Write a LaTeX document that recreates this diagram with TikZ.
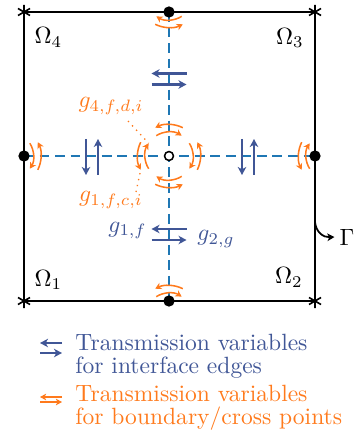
\documentclass[tikz,border=0pt]{standalone}
\usetikzlibrary{arrows.meta,calc}
\definecolor{edgeblue}{RGB}{64,86,150}
\definecolor{lineblue}{RGB}{31,119,180}
\definecolor{ptorange}{RGB}{255,122,28}
\newcommand{\ptpair}[2]{%
  \draw[ptarrow] (#1) ++({#2+26}:31.5) arc[start angle={#2+26}, end angle={#2-26}, radius=31.5];
  \draw[ptarrow] (#1) ++({#2-32}:24) arc[start angle={#2-32}, end angle={#2+32}, radius=24];}
\begin{document}
\begin{tikzpicture}[x=0.425pt,y=-0.425pt,
  bound/.style={line width=0.9pt, black},
  iface/.style={lineblue, line width=0.85pt, dash pattern=on 4.2pt off 2.4pt},
  edgearrow/.style={edgeblue, line width=1.05pt, -{Stealth[length=3.4pt,width=3.6pt,inset=1pt]}},
  ptarrow/.style={ptorange, line width=0.65pt, -{Stealth[length=2.6pt,width=2.8pt,inset=0.7pt]}},
  dotnode/.style={circle, fill=black, inner sep=0pt, minimum size=4.8pt},
  crossnode/.style={circle, draw=black, fill=white, line width=0.65pt, inner sep=0pt, minimum size=3.8pt},
  leader/.style={ptorange, line width=0.55pt, dotted},
  lab/.style={inner sep=0pt},
  legtext/.style={inner sep=0pt, anchor=base west},
  starmark/.pic={\draw[line width=0.7pt] (0,-7)--(0,7) (-6,-3.5)--(6,3.5) (-6,3.5)--(6,-3.5);},
  hpair/.pic={\draw[edgearrow] (17.5,-5.5) -- (-17.5,-5.5); \draw[edgearrow] (-17.5,5.5) -- (17.5,5.5);},
  vpair/.pic={\draw[edgearrow] (-6,-18) -- (-6,18); \draw[edgearrow] (6,18) -- (6,-18);}
]
\useasboundingbox (0,0) rectangle (362,434);
% corners and key points
\coordinate (TL) at (24,12);
\coordinate (TR) at (315,12);
\coordinate (BR) at (315,301);
\coordinate (BL) at (24,301);
\coordinate (Tp) at (169,12);
\coordinate (Bp) at (169,301);
\coordinate (Lp) at (24,156);
\coordinate (Rp) at (315,156);
\coordinate (Cc) at (169,156);
% virtual centres for boundary arcs
\coordinate (Vt) at (169,-4);
\coordinate (Vb) at (169,317);
\coordinate (Vl) at (9.5,156);
\coordinate (Vr) at (330,156);
% domain boundary
\draw[bound] (TL) -- (TR) -- (BR) -- (BL) -- cycle;
% interfaces
\draw[iface] (Tp) -- (Bp);
\draw[iface] (Lp) -- (Rp);
% edge transmission variables
\pic at (169,79) {hpair};
\pic at (169,234.5) {hpair};
\pic at (92,157) {vpair};
\pic at (248,157) {vpair};
% point transmission variables
\ptpair{Cc}{-90}
\ptpair{Cc}{90}
\ptpair{Cc}{180}
\ptpair{Cc}{0}
\ptpair{Vt}{90}
\ptpair{Vb}{-90}
\ptpair{Vl}{0}
\ptpair{Vr}{180}
% corner marks
\pic at (TL) {starmark};
\pic at (TR) {starmark};
\pic at (BR) {starmark};
\pic at (BL) {starmark};
% dots
\node[dotnode] (T) at (Tp) {};
\node[dotnode] (B) at (Bp) {};
\node[dotnode] (L) at (Lp) {};
\node[dotnode] (R) at (Rp) {};
\node[crossnode] (C) at (Cc) {};
% subdomain labels
\node[lab] (O4) at (48.5,37.5) {$\Omega_4$};
\node[lab] (O3) at (290,38) {$\Omega_3$};
\node[lab] (O1) at (48.5,280) {$\Omega_1$};
\node[lab] (O2) at (289,277.5) {$\Omega_2$};
% variable labels
\node[lab, text=ptorange] (g4) at (111,106) {$g_{4,f,d,i}$};
\node[lab, text=ptorange] (g1c) at (111,200) {$g_{1,f,c,i}$};
\node[lab, text=edgeblue] (g1f) at (127.5,230.5) {$g_{1,f}$};
\node[lab, text=edgeblue] (g2g) at (216,239) {$g_{2,g}$};
% leaders
\coordinate (g4a) at (128,121);
\coordinate (g4b) at ($(Cc)+(212:24)$);
\coordinate (g1a) at (136,192);
\coordinate (g1b) at ($(Cc)+(154:31.5)$);
\draw[leader] (g4a) -- (g4b);
\draw[leader] (g1a) -- (g1b);
% boundary label
\coordinate (Gs) at (315,222);
\node[inner sep=2pt] (Gam) at (347,237) {$\Gamma$};
\draw[line width=0.75pt, -{Stealth[length=3pt,width=3.2pt,inset=0.8pt]}] (Gs) .. controls (316,232) and (323,237.5) .. (Gam.west);
% legend
\draw[edgearrow] (62,343) -- (40,343);
\draw[edgearrow] (40,353) -- (62,353);
\draw[ptarrow] (62,397) -- (40,397);
\draw[ptarrow] (40,402) -- (62,402);
\node[legtext, text=edgeblue] (l1) at (75,350) {Transmission variables};
\node[legtext, text=edgeblue] (l2) at (75,373) {for interface edges};
\node[legtext, text=ptorange] (l3) at (75,401) {Transmission variables};
\node[legtext, text=ptorange] (l4) at (75,424) {for boundary/cross points};
\end{tikzpicture}
\end{document}
